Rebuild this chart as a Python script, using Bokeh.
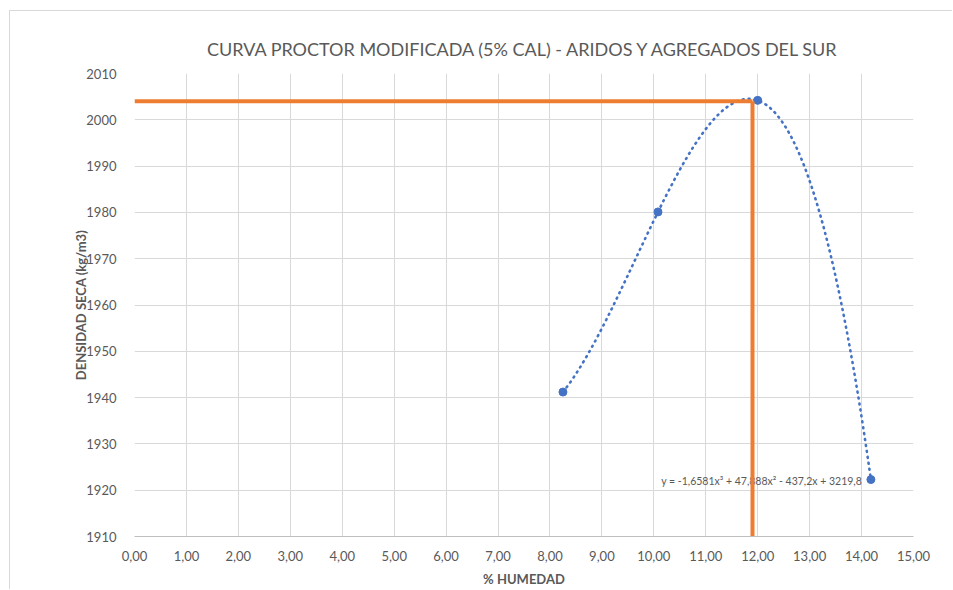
import numpy as np
from bokeh.plotting import figure
from bokeh.models import FixedTicker, ColumnDataSource
from bokeh.core.properties import value
from bokeh.embed import file_html
from bokeh.resources import INLINE

# Compaction test results
humedad = [8.25, 10.08, 12.00, 14.18]          # % humedad
densidad = [1941.2, 1980.1, 2004.2, 1922.3]    # densidad seca (kg/m3)

# Optimum
humedad_optima = 11.90
densidad_maxima = 2004.0

x_ticks = [0, 1, 2, 3, 4, 5, 6, 7, 8, 9, 10, 11, 12, 13, 14, 15]
x_tick_labels = ["0,00", "1,00", "2,00", "3,00", "4,00", "5,00", "6,00", "7,00",
                 "8,00", "9,00", "10,00", "11,00", "12,00", "13,00", "14,00", "15,00"]
y_ticks = [1910, 1920, 1930, 1940, 1950, 1960, 1970, 1980, 1990, 2000, 2010]

ecuacion = "y = -1,6581x³ + 47,888x² - 437,2x + 3219,8"

TEXT = "#595959"
GRID = "#d9d9d9"
BLUE = "#4472C4"
ORANGE = "#ED7D31"
FONT = "Lato"

p = figure(width=943, height=579, x_range=(0, 15), y_range=(1910, 2010),
           output_backend="svg", toolbar_location=None,
           min_border_left=124, min_border_right=40,
           min_border_top=62, min_border_bottom=54,
           title="CURVA PROCTOR MODIFICADA (5% CAL) - ARIDOS Y AGREGADOS DEL SUR",
           styles={"margin-left": "9px", "margin-top": "10px",
                   "border-left": "1px solid #d9d9d9",
                   "border-top": "1px solid #d9d9d9"})

p.outline_line_color = None
p.background_fill_color = "white"
p.border_fill_color = "white"

p.title.align = "center"
p.title.text_font = FONT
p.title.text_font_style = "normal"
p.title.text_font_size = "18px"
p.title.text_color = TEXT
p.title.standoff = 27

# axes
p.xaxis.ticker = FixedTicker(ticks=x_ticks)
p.xaxis.major_label_overrides = {t: l for t, l in zip(x_ticks, x_tick_labels)}
p.yaxis.ticker = FixedTicker(ticks=y_ticks)
for ax in (p.xaxis, p.yaxis):
    ax.major_tick_line_color = None
    ax.minor_tick_line_color = None
    ax.major_label_text_font = FONT
    ax.major_label_text_font_size = "13px"
    ax.major_label_text_color = TEXT
    ax.axis_label_text_font = FONT
    ax.axis_label_text_font_size = "13px"
    ax.axis_label_text_font_style = "bold"
    ax.axis_label_text_color = TEXT
p.xaxis.axis_line_color = "#bfbfbf"
p.yaxis.axis_line_color = None
p.xaxis.major_label_standoff = 8
p.yaxis.major_label_standoff = 12
p.xaxis.axis_label = "% HUMEDAD"
p.yaxis.axis_label = "DENSIDAD SECA (kg/m3)"
p.xaxis.axis_label_standoff = 7
p.yaxis.axis_label_standoff = -6

p.grid.grid_line_color = GRID
p.grid.grid_line_width = 1

# cubic trendline through the test points
coef = np.polyfit(humedad, densidad, 3)
xs = np.linspace(min(humedad), max(humedad), 200)
ys = np.polyval(coef, xs)
p.line(xs, ys, line_color=BLUE, line_width=2.6, line_dash="1 5", line_cap="round")

src = ColumnDataSource(data=dict(x=humedad, y=densidad))
p.scatter("x", "y", source=src, size=8, fill_color=BLUE, line_color=BLUE)

# trendline equation next to the last point
p.text(x=[humedad[-1] - 0.17], y=[densidad[-1] - 0.4], text=[ecuacion],
       text_align="right", text_baseline="middle",
       text_font=value(FONT), text_font_size="10.5px", text_color=TEXT)

# optimum guide lines
p.line([0, humedad_optima], [densidad_maxima, densidad_maxima],
       line_color=ORANGE, line_width=4)
p.line([humedad_optima, humedad_optima], [1910, densidad_maxima],
       line_color=ORANGE, line_width=4)

open("out.html", "w").write(file_html(p, INLINE))
